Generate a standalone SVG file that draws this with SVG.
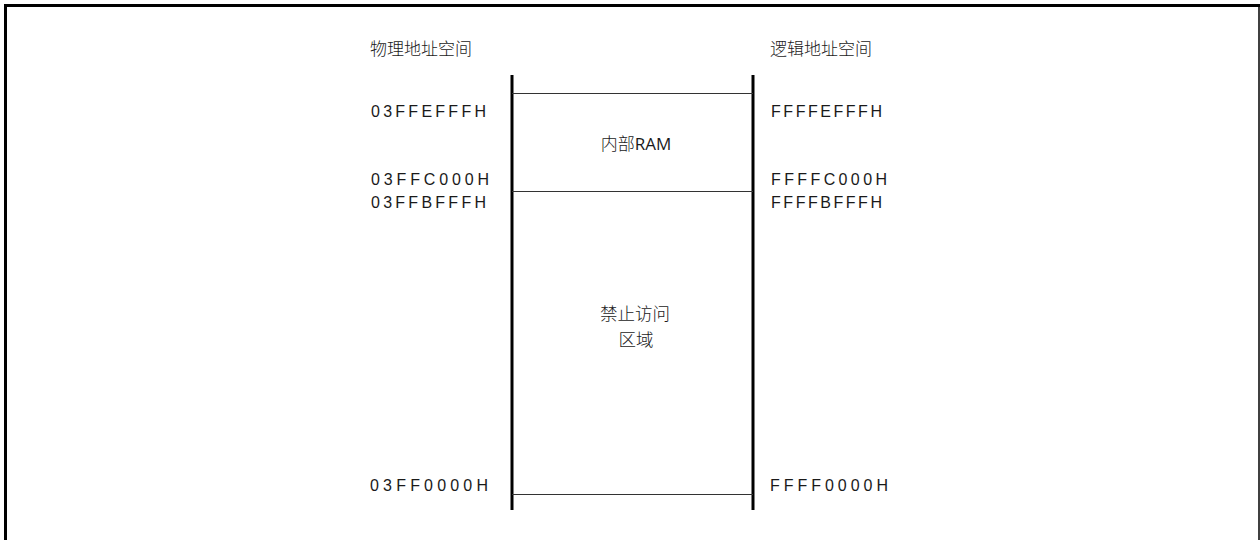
<svg xmlns="http://www.w3.org/2000/svg" width="1260" height="540" viewBox="0 0 1260 540">
<style>
.addr{font-family:"Liberation Sans","Open Sans",sans-serif;font-size:16px;fill:#1a1a1a}
.cjk{font-family:"Noto Sans CJK SC","Liberation Sans",sans-serif;font-weight:300;fill:#1a1a1a}
.col{stroke:#000;stroke-width:3;fill:none}
.div{stroke:#333;stroke-width:1.2;fill:none}
</style>
<rect width="1260" height="540" fill="#fff"/>
<g id="frame">
<path d="M5.5,540 V5.5 H1260" stroke="#000" stroke-width="3" fill="none"/>
<path d="M1259,5 V540" stroke="#000" stroke-width="1.5" fill="none"/>
</g>
<g id="headers">
<text class="cjk" x="370" y="55" font-size="17">物理地址空间</text>
<text class="cjk" x="770" y="55" font-size="17">逻辑地址空间</text>
</g>
<g id="connectors">
<line class="col" x1="512" y1="75" x2="512" y2="510"/>
<line class="col" x1="753" y1="75" x2="753" y2="510"/>
<line class="div" x1="512" y1="93.5" x2="753" y2="93.5"/>
<line class="div" x1="512" y1="191.5" x2="753" y2="191.5"/>
<line class="div" x1="512" y1="494.5" x2="753" y2="494.5"/>
</g>
<g id="node-ram">
<text class="cjk" x="636" y="150" font-size="17" text-anchor="middle">内部<tspan font-family="'Open Sans','Liberation Sans',sans-serif" font-weight="400">RAM</tspan></text>
</g>
<g id="node-forbidden">
<text class="cjk" x="635" y="320" font-size="17.5" text-anchor="middle">禁止访问</text>
<text class="cjk" x="636" y="346" font-size="17.5" text-anchor="middle">区域</text>
</g>
<g id="addr-physical">
<text class="addr" x="371" y="117" textLength="115" lengthAdjust="spacing">03FFEFFFH</text>
<text class="addr" x="371" y="185" textLength="118" lengthAdjust="spacing">03FFC000H</text>
<text class="addr" x="371" y="208" textLength="115" lengthAdjust="spacing">03FFBFFFH</text>
<text class="addr" x="370" y="491" textLength="118" lengthAdjust="spacing">03FF0000H</text>
</g>
<g id="addr-logical">
<text class="addr" x="771" y="117" textLength="111" lengthAdjust="spacing">FFFFEFFFH</text>
<text class="addr" x="771" y="185" textLength="116" lengthAdjust="spacing">FFFFC000H</text>
<text class="addr" x="771" y="208" textLength="111" lengthAdjust="spacing">FFFFBFFFH</text>
<text class="addr" x="770" y="491" textLength="118" lengthAdjust="spacing">FFFF0000H</text>
</g>
</svg>
